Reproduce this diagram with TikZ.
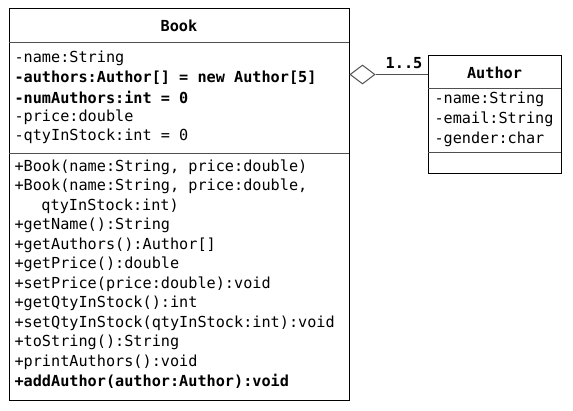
\documentclass[tikz,border=0pt]{standalone}
\usepackage{fontspec}
\setmonofont{DejaVu Sans Mono}
\usepackage{tikz}
\usetikzlibrary{shapes.geometric}
\definecolor{line_gray}{RGB}{80,80,80}

\begin{document}
\begin{tikzpicture}[x=1pt,y=-1pt,line width=1pt]
    \tikzstyle{box}=[draw=black, rectangle, inner sep=0pt, fill=white]
    \tikzstyle{sep}=[draw=line_gray]
    \tikzstyle{txt}=[anchor=west, inner sep=0pt, text=black, font=\ttfamily\fontsize{15.2}{18}\selectfont]
    \tikzstyle{bld}=[style=txt, font=\ttfamily\bfseries\fontsize{15.2}{18}\selectfont]
    \tikzstyle{ttl}=[style=bld, anchor=center]

    \useasboundingbox (0,0) rectangle (573,411);

    % Book class
    \node[box, minimum width=340pt, minimum height=392pt] (book) at (179,205) {};
    \node[ttl] (book_name) at (179,26) {Book};
    \draw[sep] (9,43) -- (349,43);
    \node[txt] (b_name)   at (14,58)  {-name:String};
    \node[bld] (b_auths)  at (14,78)  {-authors:Author[] = new Author[5]};
    \node[bld] (b_num)    at (14,97)  {-numAuthors:int = 0};
    \node[txt] (b_price)  at (14,117) {-price:double};
    \node[txt] (b_qty)    at (14,136) {-qtyInStock:int = 0};
    \draw[sep] (9,154) -- (349,154);
    \node[txt] (m_book1)  at (14,167) {+Book(name:String, price:double)};
    \node[txt] (m_book2)  at (14,186) {+Book(name:String, price:double,};
    \node[txt] (m_book2b) at (41,206) {qtyInStock:int)};
    \node[txt] (m_gname)  at (14,225) {+getName():String};
    \node[txt] (m_gauth)  at (14,245) {+getAuthors():Author[]};
    \node[txt] (m_gprice) at (14,264) {+getPrice():double};
    \node[txt] (m_sprice) at (14,284) {+setPrice(price:double):void};
    \node[txt] (m_gqty)   at (14,303) {+getQtyInStock():int};
    \node[txt] (m_sqty)   at (14,323) {+setQtyInStock(qtyInStock:int):void};
    \node[txt] (m_tostr)  at (14,342) {+toString():String};
    \node[txt] (m_print)  at (14,362) {+printAuthors():void};
    \node[bld] (m_add)    at (14,381) {+addAuthor(author:Author):void};

    % Author class
    \node[box, minimum width=133pt, minimum height=118pt] (author) at (494.5,115) {};
    \node[ttl] (author_name) at (494.5,73) {Author};
    \draw[sep] (428,89) -- (561,89);
    \node[txt] (a_name)   at (434,99)  {-name:String};
    \node[txt] (a_email)  at (434,119) {-email:String};
    \node[txt] (a_gender) at (434,139) {-gender:char};
    \draw[sep] (428,153) -- (561,153);

    % aggregation
    \node[diamond, draw=line_gray, fill=white, inner sep=0pt, minimum width=25pt, minimum height=19pt] (agg) at (362.5,74.5) {};
    \draw[sep] (agg.east) -- (agg.east -| author.west);
    \node[ttl] (mult) at (404,63) {1..5};
\end{tikzpicture}
\end{document}
